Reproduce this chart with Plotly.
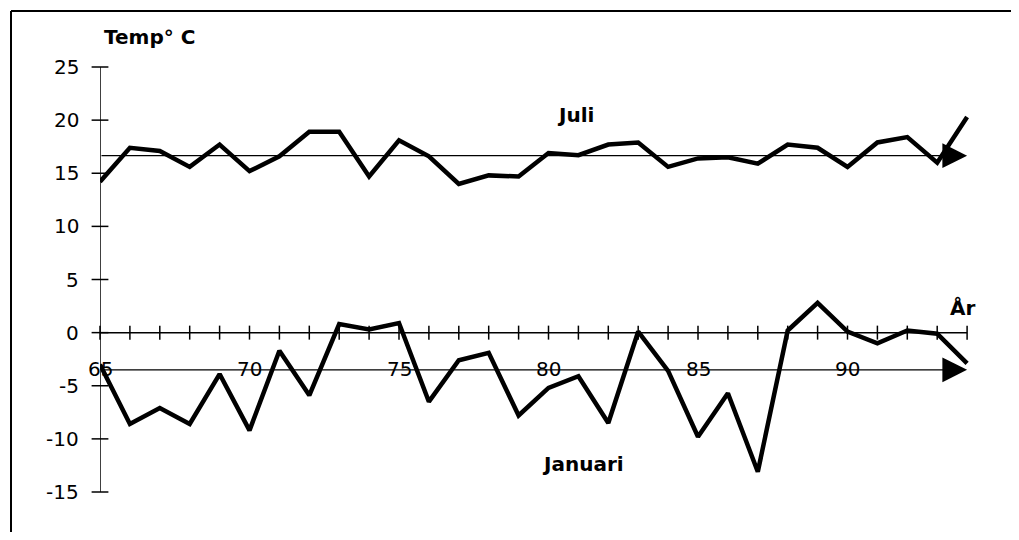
import plotly.graph_objects as go

# ---- data ----
years = list(range(65, 95))
juli = [14.2, 17.4, 17.1, 15.6, 17.7, 15.2, 16.6, 18.9, 18.9, 14.7,
        18.1, 16.6, 14.0, 14.8, 14.7, 16.9, 16.7, 17.7, 17.9, 15.6,
        16.4, 16.5, 15.9, 17.7, 17.4, 15.6, 17.9, 18.4, 16.0, 20.3]
januari = [-3.0, -8.6, -7.1, -8.6, -3.9, -9.2, -1.7, -5.9, 0.8, 0.3,
           0.9, -6.5, -2.6, -1.9, -7.8, -5.2, -4.1, -8.5, 0.1, -3.6,
           -9.8, -5.7, -13.1, 0.2, 2.8, 0.1, -1.0, 0.2, -0.1, -2.9]
juli_mean = 16.65
januari_mean = -3.5
y_ticks = [25, 20, 15, 10, 5, 0, -5, -10, -15]
x_tick_labels = [65, 70, 75, 80, 85, 90]

# ---- layout geometry (page has an 8px body margin) ----
OFF = 8
W, H = 1019 - 2 * OFF, 540 - 2 * OFF
AX_X_PX = 100 - OFF          # pixel of the y axis (year 65)
TOP25_PX = 67 - OFF          # pixel of y = 25
ML, MR, MT, MB = AX_X_PX, 31, 52, 32
PX_PER_YEAR = 29.9
PX_PER_DEG = 10.625
plot_w = W - ML - MR
plot_h = H - MT - MB
x0 = years[0]
x_range = [x0, x0 + plot_w / PX_PER_YEAR]
y_top = max(y_ticks) + (TOP25_PX - MT) / PX_PER_DEG
y_range = [y_top - plot_h / PX_PER_DEG, y_top]

def paper_x(px_ref):
    return (px_ref - OFF - ML) / plot_w

def paper_y(py_ref):
    return (H - MB - (py_ref - OFF)) / plot_h

FONT = "DejaVu Sans"
fig = go.Figure()

# data lines
fig.add_trace(go.Scatter(x=years, y=juli, mode="lines", name="Juli",
                         line=dict(color="black", width=4.5), cliponaxis=False))
fig.add_trace(go.Scatter(x=years, y=januari, mode="lines", name="Januari",
                         line=dict(color="black", width=4.5), cliponaxis=False))

# y axis ticks (crossing)
fig.add_trace(go.Scatter(x=[x0] * len(y_ticks), y=y_ticks, mode="markers",
                         marker=dict(symbol="line-ew", size=12,
                                     line=dict(color="black", width=1.5)),
                         cliponaxis=False, hoverinfo="skip"))
# x axis ticks (crossing) at every year
fig.add_trace(go.Scatter(x=years, y=[0] * len(years), mode="markers",
                         marker=dict(symbol="line-ns", size=10,
                                     line=dict(color="black", width=1.5)),
                         cliponaxis=False, hoverinfo="skip"))

shapes = []
shapes.append(dict(type="line", xref="x", yref="y", x0=x0, x1=x0,
                   y0=min(y_ticks), y1=max(y_ticks),
                   line=dict(color="black", width=1.5)))
shapes.append(dict(type="line", xref="x", yref="y", x0=years[0], x1=years[-1],
                   y0=0, y1=0, line=dict(color="black", width=1.5)))
# frame (top and left)
shapes.append(dict(type="line", xref="paper", yref="paper",
                   x0=paper_x(11), x1=paper_x(1019),
                   y0=paper_y(11), y1=paper_y(11),
                   line=dict(color="black", width=2)))
shapes.append(dict(type="line", xref="paper", yref="paper",
                   x0=paper_x(11), x1=paper_x(11),
                   y0=paper_y(11), y1=paper_y(540),
                   line=dict(color="black", width=2)))

annotations = []
for m in (juli_mean, januari_mean):
    annotations.append(dict(x=years[-1], y=m, xref="x", yref="y",
                            ax=years[0], ay=m, axref="x", ayref="y",
                            text="", showarrow=True, arrowhead=2,
                            arrowsize=3.8, arrowwidth=1.3, arrowcolor="black"))
for v in y_ticks:
    annotations.append(dict(x=x0, y=v, xref="x", yref="y", text=str(v),
                            showarrow=False, xanchor="right", xshift=-19,
                            font=dict(family=FONT, size=20, color="black")))
for v in x_tick_labels:
    annotations.append(dict(x=v, y=0, xref="x", yref="y", text=str(v),
                            showarrow=False, yshift=-36, xanchor="center",
                            font=dict(family=FONT, size=20, color="black")))
bold = dict(family=FONT, size=20, color="black")
annotations.append(dict(x=paper_x(149), y=paper_y(37), xref="paper", yref="paper",
                        xanchor="center", yanchor="middle",
                        text="<b>Temp° C</b>", showarrow=False, font=bold))
annotations.append(dict(x=80.9, y=20.5, xref="x", yref="y", text="<b>Juli</b>",
                        xanchor="center", showarrow=False, font=bold))
annotations.append(dict(x=81.15, y=-12.4, xref="x", yref="y", text="<b>Januari</b>",
                        xanchor="center", showarrow=False, font=bold))
annotations.append(dict(x=93.83, y=2.3, xref="x", yref="y", text="<b>År</b>",
                        xanchor="center", showarrow=False, font=bold))

fig.update_layout(
    width=W, height=H,
    margin=dict(l=ML, r=MR, t=MT, b=MB),
    paper_bgcolor="white", plot_bgcolor="white",
    showlegend=False,
    xaxis=dict(range=x_range, visible=False, fixedrange=True),
    yaxis=dict(range=y_range, visible=False, fixedrange=True),
    shapes=shapes, annotations=annotations,
)

fig.write_html("out.html")
